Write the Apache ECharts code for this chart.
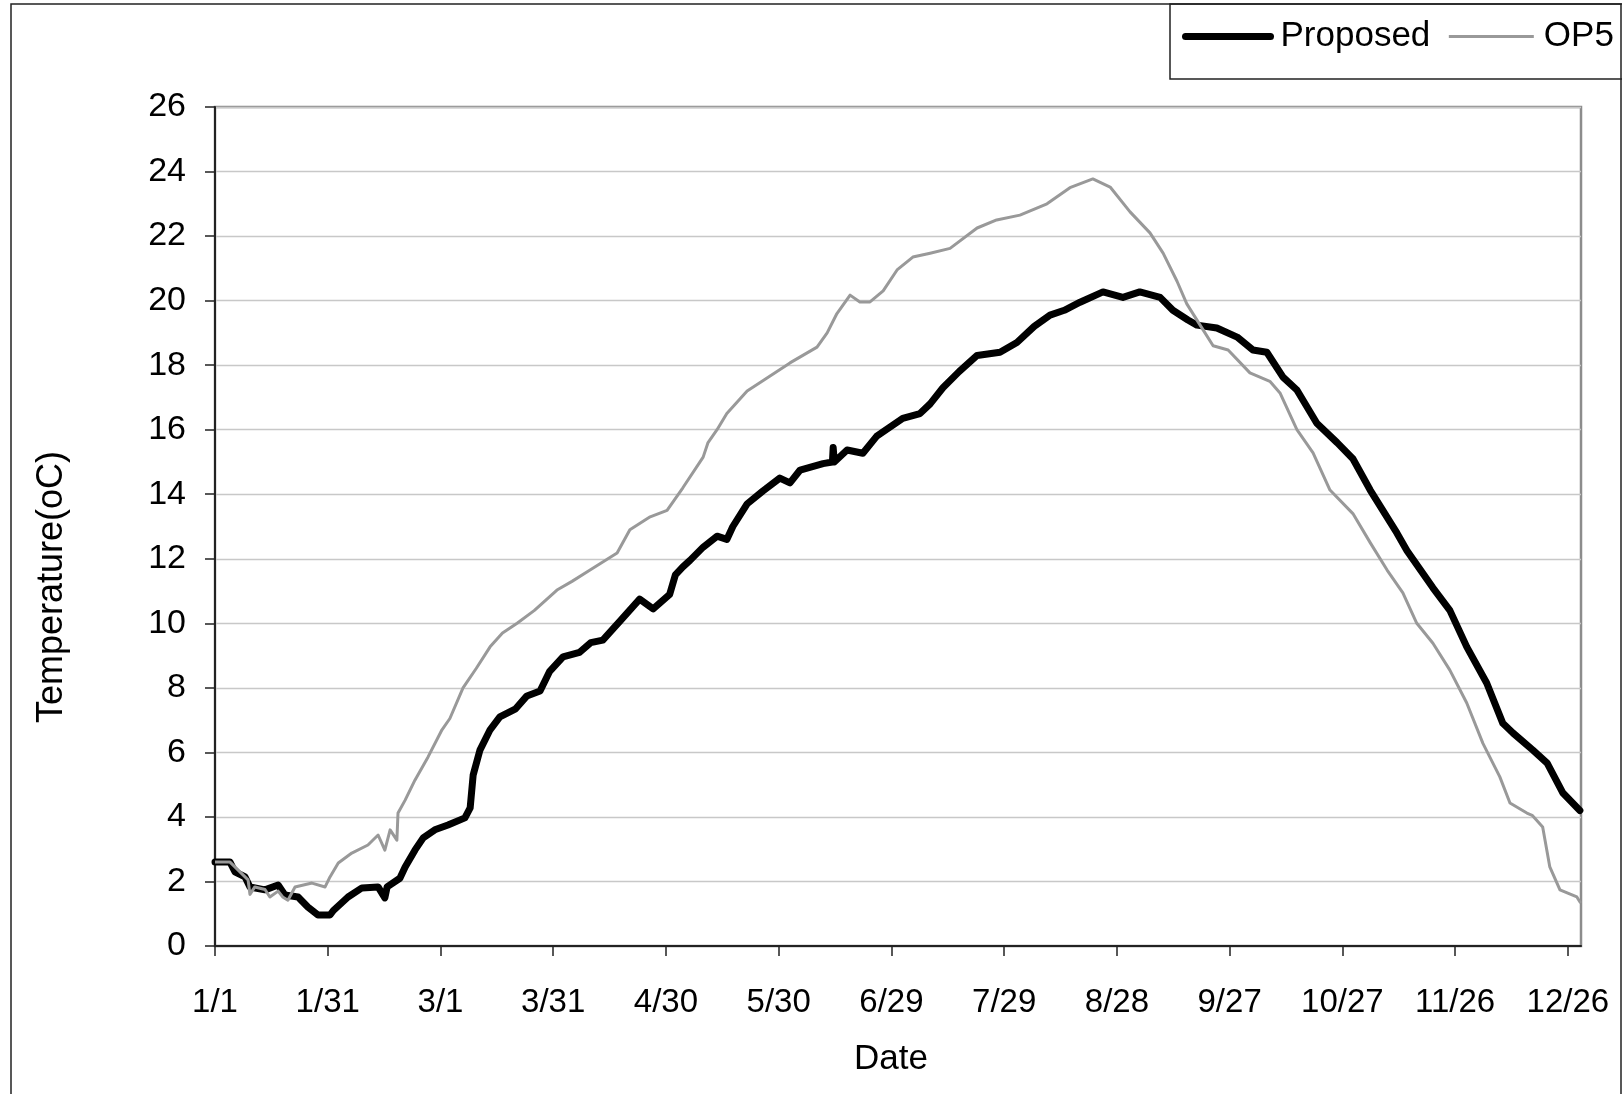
<!DOCTYPE html>
<html>
<head>
<meta charset="utf-8">
<script src="https://cdn.jsdelivr.net/npm/echarts@6/dist/echarts.min.js"></script>
<style>
html,body{margin:0;padding:0;background:#fff;}
#chart{width:1622px;height:1094px;}
</style>
</head>
<body>
<div id="chart"></div>
<script>
// Day offsets (from 1/1) and temperatures
var tickLabels = ['1/1','1/31','3/1','3/31','4/30','5/30','6/29','7/29','8/28','9/27','10/27','11/26','12/26'];
var seriesNames = ['Proposed', 'OP5'];

var proposedDays = [0,4,5.3,8,9.3,13.3,16.8,18.6,22.1,24.7,27.4,30.6,31.5,35.4,39.1,43.4,45.2,45.8,49.2,50.6,53.2,55.4,58.5,62,66.5,67.9,68.7,70.5,73.2,75.8,80,83,86.5,89,92.6,97,100,103.2,108,113,116.6,121,122.5,124.5,126.4,129.9,133.6,136.2,137.8,141.6,145.8,150.3,153,155.7,161.8,164.3,164.5,164.8,168.2,172.4,176.1,183,187.6,190.3,193.7,198,202.8,208.9,213.4,218,222.2,226,230.2,236.3,241.6,246.1,251.5,254.9,258.9,261.3,266.6,272,276.2,279.9,284.2,287.9,293.2,298.6,302.8,307.4,314.5,317.2,324.1,328.6,333.1,338.4,342.7,345.4,350.7,354.5,358.7,363.2];
var proposedTemps = [2.6,2.6,2.3,2.14,1.83,1.74,1.89,1.58,1.52,1.21,0.96,0.96,1.1,1.52,1.8,1.83,1.49,1.83,2.1,2.45,2.97,3.35,3.6,3.75,3.97,4.28,5.3,6.07,6.7,7.1,7.35,7.75,7.9,8.5,8.96,9.1,9.4,9.48,10.1,10.75,10.45,10.9,11.5,11.75,11.95,12.36,12.7,12.6,13.0,13.7,14.1,14.5,14.35,14.75,14.95,15.0,15.45,15.0,15.37,15.27,15.8,16.35,16.5,16.8,17.3,17.8,18.3,18.4,18.7,19.2,19.55,19.7,19.95,20.27,20.1,20.27,20.1,19.7,19.4,19.24,19.15,18.87,18.47,18.4,17.63,17.23,16.2,15.6,15.1,14.13,12.8,12.25,11.1,10.4,9.27,8.15,6.9,6.6,6.07,5.67,4.74,4.2];

var op5Days = [0,4,5.3,8.8,9.3,10.6,13.3,14.6,16.8,18,19.4,21.3,25.8,29.3,30.6,32.8,36.4,40.7,43.4,45.2,46.6,48.4,48.7,50.6,53.2,56.7,60.4,62.5,66,69.5,73.2,76.5,80.4,85,91,95,99.8,107,110.4,115.8,120.3,124.5,129.9,131.2,133.6,136.2,141.6,146.9,153,160.2,162.9,165.5,169,171.6,174.3,177.8,181.5,185.7,190.3,195.6,202.8,208,214.2,221.4,227.5,233.6,238.2,243.5,248.8,252.3,256,258.6,262.9,265.6,269.6,275.4,280.7,283.4,287.9,292.2,296.7,302.8,307.4,311.9,316.1,319.8,324.1,328.6,333.1,337.4,341.9,344.6,349.1,350.5,353.3,355.2,357.9,362.4,363.4];
var op5Temps = [2.6,2.6,2.45,2.05,1.6,1.83,1.75,1.52,1.7,1.52,1.42,1.83,1.95,1.83,2.14,2.57,2.88,3.13,3.44,2.97,3.6,3.28,4.12,4.52,5.14,5.86,6.7,7.05,8.0,8.6,9.27,9.7,10.0,10.4,11.03,11.3,11.65,12.18,12.9,13.3,13.5,14.2,15.15,15.6,16.0,16.5,17.2,17.6,18.07,18.56,19.0,19.6,20.17,19.96,19.96,20.3,20.95,21.35,21.47,21.62,22.25,22.5,22.65,23.0,23.5,23.77,23.52,22.75,22.1,21.47,20.6,19.9,19.1,18.6,18.47,17.76,17.5,17.14,16.0,15.28,14.13,13.4,12.5,11.65,10.94,10.0,9.38,8.55,7.53,6.28,5.24,4.43,4.12,4.05,3.69,2.45,1.74,1.52,1.33];

function pairs(xs, ys){ return xs.map(function(x,i){ return [x, ys[i]]; }); }

var FONT = 'Liberation Sans, Arial, sans-serif';
var chart = echarts.init(document.getElementById('chart'), null, {renderer:'canvas'});
chart.setOption({
  animation: false,
  backgroundColor: '#fff',
  textStyle: {fontFamily: FONT},
  grid: {left: 215, right: 41, top: 107, bottom: 148, show: true, borderColor: '#8c8c8c', borderWidth: 2.5, backgroundColor: 'transparent'},
  legend: {
    left: 1182, top: 19, padding: 0, itemGap: 17,
    itemWidth: 85, itemHeight: 14,
    itemStyle: {color: 'transparent', borderWidth: 0},
    textStyle: {fontSize: 35, color: '#000', fontFamily: FONT, padding: [0,0,0,5]},
    data: [
      {name: seriesNames[0], lineStyle: {color: '#000', width: 7, cap: 'round'}},
      {name: seriesNames[1], lineStyle: {color: '#999', width: 3}}
    ]
  },
  xAxis: {
    type: 'value', min: 0, max: 363.5, interval: 30,
    splitLine: {show: false},
    axisLine: {show: true, onZero: false, lineStyle: {color: '#222', width: 2}},
    axisTick: {show: true, length: 10, lineStyle: {color: '#222', width: 1.5}},
    axisLabel: {
      margin: 40, fontSize: 33, color: '#000', fontFamily: FONT, showMaxLabel: false,
      formatter: function(v){ var i = Math.round(v/30); return (Math.abs(v - i*30) < 1e-6 && tickLabels[i]) ? tickLabels[i] : ''; }
    }
  },
  yAxis: {
    type: 'value', min: 0, max: 26, interval: 2,
    splitLine: {show: true, lineStyle: {color: '#c8c8c8', width: 1.3}},
    axisLine: {show: true, lineStyle: {color: '#222', width: 2}},
    axisTick: {show: true, length: 10, lineStyle: {color: '#222', width: 1.5}},
    axisLabel: {margin: 29, fontSize: 34, color: '#000', fontFamily: FONT}
  },
  graphic: [
    {type: 'rect', silent: true, shape: {x: 11, y: 4, width: 1610, height: 1200}, style: {fill: 'none', stroke: '#222', lineWidth: 1.5}, z: 0},
    {type: 'rect', silent: true, shape: {x: 1170, y: 4, width: 460, height: 75}, style: {fill: 'none', stroke: '#222', lineWidth: 1.5}, z: 0},
    {type: 'text', x: 891, y: 1059, style: {text: 'Date', font: '35px ' + FONT, fill: '#000', textAlign: 'center', textVerticalAlign: 'middle'}},
    {type: 'text', x: 52, y: 587, rotation: Math.PI/2, style: {text: 'Temperature(oC)', font: '36px ' + FONT, fill: '#000', textAlign: 'center', textVerticalAlign: 'middle'}}
  ],
  series: [
    {name: seriesNames[0], type: 'line', data: pairs(proposedDays, proposedTemps), symbol: 'none', smooth: false,
     lineStyle: {color: '#000', width: 7, cap: 'round', join: 'round'}, itemStyle: {color: '#000'}, z: 2},
    {name: seriesNames[1], type: 'line', data: pairs(op5Days, op5Temps), symbol: 'none', smooth: false,
     lineStyle: {color: '#999', width: 3, join: 'round'}, itemStyle: {color: '#999'}, z: 3}
  ]
});
</script>
</body>
</html>
